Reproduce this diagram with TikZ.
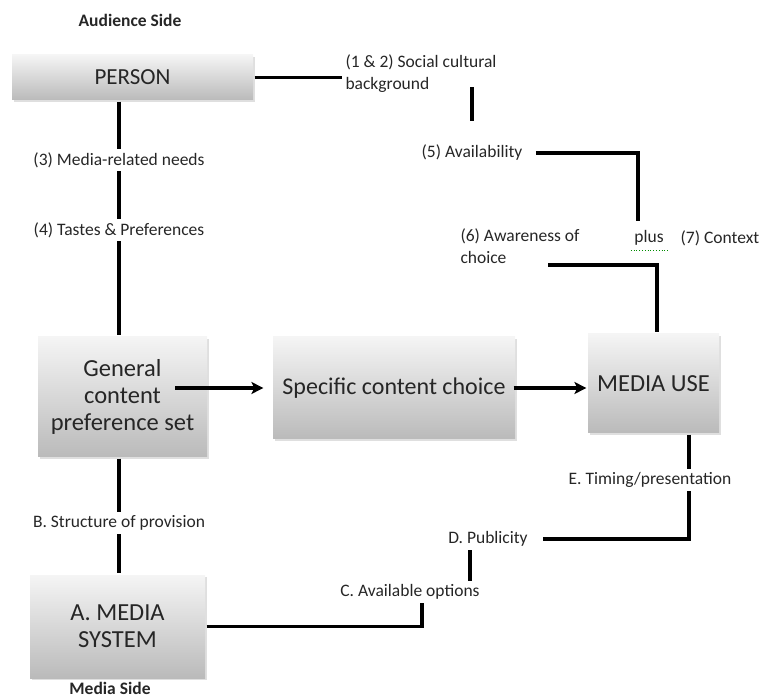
\documentclass[tikz,border=0pt]{standalone}
\usepackage{fontspec}
\setmainfont{Carlito}
\usetikzlibrary{shadows, arrows.meta}

\begin{document}
\begin{tikzpicture}[x=1pt, y=-1pt, line width=3.2pt]
      \useasboundingbox (0,0) rectangle (769,700);

      % boxes
      {\tikzstyle{every node}=[rectangle, inner sep=0pt, align=center,
          top color=white!96!black, bottom color=black!27, text=black!85,
          font=\fontsize{24.5}{27}\selectfont,
          drop shadow={opacity=0.25, shadow xshift=1.5pt, shadow yshift=-2pt}]
        \node[minimum width=241, minimum height=45, font=\fontsize{23}{27}\selectfont] (person) at (132.5, 77.5) {PERSON};
        \node[minimum width=169, minimum height=120] (general) at (122.5, 397) {General\\content\\preference set};
        \node[minimum width=242, minimum height=102, font=\fontsize{24}{27}\selectfont] (specific) at (394, 388) {Specific content choice};
        \node[minimum width=131, minimum height=99] (use) at (653.5, 383.5) {MEDIA USE};
        \node[minimum width=175, minimum height=103] (system) at (117.5, 626.5) {A. MEDIA\\SYSTEM};
      }

      % labels
      {\tikzstyle{every node}=[inner sep=2pt, text=black!85, font=\fontsize{17.5}{22}\selectfont]
        \node[font=\fontsize{17.5}{22}\selectfont\bfseries] (audience) at (130, 20) {Audience Side};
        \node[align=left] (social) at (421, 74) {(1 \& 2) Social cultural\\background};
        \node (needs) at (119, 160) {(3) Media-related needs};
        \node (tastes) at (119, 230) {(4) Tastes \& Preferences};
        \node (avail) at (472, 153) {(5) Availability};
        \node[align=left] (aware) at (520, 246.5) {(6) Awareness of\\choice};
        \node (plus) at (649, 238) {plus};
        \node (context) at (720, 238) {(7) Context};
        \node (structure) at (119, 523) {B. Structure of provision};
        \node (timing) at (650, 480) {E. Timing/presentation};
        \node (pub) at (488, 539) {D. Publicity};
        \node (options) at (410, 592) {C. Available options};
        \node[font=\fontsize{17.5}{22}\selectfont\bfseries] (mediaside) at (110, 688) {Media Side};
      }
      \coordinate (awstart) at (548, 265);

      \draw [green!55!black, line width=0.8pt, dotted]
        ([yshift=-1pt]plus.south west) -- ([yshift=-1pt]plus.south east);

      % audience side
      \draw
        (person.east) -- (person.east -| social.west)
        ([yshift=21pt]avail.north) -- ([yshift=55pt]avail.north)
        (person.south -| needs.north) -- (needs.north)
        (needs.south) -- (tastes.north)
        (tastes.south) -- (tastes.south |- general.north);
      \draw [shorten <=10pt, shorten >=6pt]
        (avail.east) -| ([xshift=-11pt]plus.north);
      \draw
        (awstart) -| ([xshift=3.5pt]use.north);

      % media side
      \draw
        (general.south -| structure.north) -- (structure.north)
        (structure.south) -- (structure.south |- system.north)
        (system.east) -| ([xshift=12pt]options.south)
        (options.north -| 470,0) -- (pub.south -| 470,0)
        (use.south -| 689,0) -- (timing.north -| 689,0);
      \draw [shorten <=12pt]
        (pub.east) -| (timing.south -| 689,0);

      % choice
      \draw [-{Stealth[length=12pt, width=12pt, inset=3pt]}]
        (specific.west -| 175,0) -- ([xshift=-8pt]specific.west);
      \draw [-{Stealth[length=12pt, width=12pt, inset=3pt]}]
        ([xshift=-3pt]specific.east) -- (specific.east -| use.west);
    \end{tikzpicture}
\end{document}
